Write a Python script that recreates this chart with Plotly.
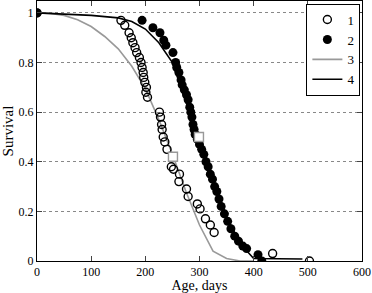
import plotly.graph_objects as go

# Series 1: open circles (day, survival)
s1_days = [0, 155, 162, 170, 174, 177, 181, 184, 189, 192, 194, 196, 197, 199, 202, 201, 204,
           226, 228, 230, 231, 233, 236, 240, 248, 252, 263, 262, 276, 279, 296, 301, 311, 320, 327, 435, 503]
s1_surv = [1.0, 0.97, 0.95, 0.92, 0.90, 0.88, 0.86, 0.84, 0.82, 0.80, 0.78, 0.76, 0.74, 0.72, 0.70, 0.68, 0.66,
           0.60, 0.58, 0.55, 0.53, 0.50, 0.48, 0.45, 0.38, 0.37, 0.35, 0.32, 0.29, 0.26, 0.23, 0.21, 0.17, 0.145, 0.115, 0.03, 0.0]

# Series 2: filled circles
s2_days = [0, 194, 214, 227, 234, 238, 251, 256, 258, 262, 266, 268, 272, 276, 279, 282, 284, 286, 288, 290,
           292, 296, 300, 304, 308, 312, 316, 320, 324, 328, 332, 336, 340, 346, 352, 358, 365, 372, 380, 387, 408, 415]
s2_surv = [1.0, 0.97, 0.94, 0.92, 0.89, 0.87, 0.84, 0.80, 0.78, 0.76, 0.73, 0.71, 0.69, 0.67, 0.65, 0.62, 0.60, 0.58, 0.55, 0.53,
           0.51, 0.49, 0.47, 0.45, 0.43, 0.40, 0.38, 0.35, 0.33, 0.30, 0.28, 0.25, 0.22, 0.19, 0.16, 0.13, 0.10, 0.08, 0.06, 0.05, 0.025, 0.0]

# Curve 3: gray model line
c3_days = [0, 25, 50, 75, 100, 125, 150, 175, 200, 225, 250, 275, 300, 325, 350, 375, 400]
c3_surv = [1.0, 0.998, 0.99, 0.972, 0.945, 0.905, 0.855, 0.785, 0.695, 0.57, 0.43, 0.28, 0.145, 0.04, 0.01, 0.0, 0.0]

# Curve 4: black model line
c4_days = [0, 50, 100, 150, 175, 200, 225, 250, 275, 300, 325, 350, 375, 400, 450, 490]
c4_surv = [1.0, 0.995, 0.99, 0.98, 0.965, 0.935, 0.88, 0.80, 0.64, 0.50, 0.33, 0.18, 0.07, 0.01, 0.008, 0.008]

# Medians (gray squares)
med_days = [251, 299]
med_surv = [0.42, 0.50]

x_ticks = [0, 100, 200, 300, 400, 500, 600]
y_ticks = [0, 0.2, 0.4, 0.6, 0.8, 1.0]
y_tick_labels = ["0", "0.2", "0.4", "0.6", "0.8", "1"]

font_family = "Liberation Serif, Times New Roman, serif"

fig = go.Figure()
fig.add_trace(go.Scatter(x=c3_days, y=c3_surv, mode="lines", name="3",
                         line=dict(color="#999999", width=1.6), legendrank=3))
fig.add_trace(go.Scatter(x=c4_days, y=c4_surv, mode="lines", name="4",
                         line=dict(color="black", width=1.6), legendrank=4))
fig.add_trace(go.Scatter(x=s1_days, y=s1_surv, mode="markers", name="1", legendrank=1,
                         marker=dict(symbol="circle-open", size=8, color="black", line=dict(width=1.4))))
fig.add_trace(go.Scatter(x=s2_days, y=s2_surv, mode="markers", name="2", legendrank=2,
                         marker=dict(symbol="circle", size=9, color="black")))
fig.add_trace(go.Scatter(x=med_days, y=med_surv, mode="markers", showlegend=False,
                         marker=dict(symbol="square", size=9, color="white",
                                     line=dict(color="#999999", width=1.4))))

fig.update_layout(
    width=372, height=293,
    margin=dict(l=37, r=10, t=1, b=32, autoexpand=False),
    paper_bgcolor="white", plot_bgcolor="white",
    font=dict(family=font_family, size=12, color="black"),
    legend=dict(x=0.995, y=0.99, xanchor="right", yanchor="top",
                bgcolor="white", bordercolor="black", borderwidth=1,
                font=dict(size=13, color="black"), traceorder="normal",
                itemwidth=30, tracegroupgap=0),
    showlegend=True,
)
fig.update_xaxes(range=[0, 600], tickvals=x_ticks, ticks="inside", ticklen=5,
                 showline=True, linecolor="black", linewidth=1, mirror="ticks",
                 showgrid=False, zeroline=False,
                 title=dict(text="Age, days", font=dict(size=14), standoff=1),
                 tickfont=dict(size=12))
fig.update_yaxes(range=[0, 1.048], tickvals=y_ticks, ticktext=y_tick_labels,
                 ticks="inside", ticklen=5,
                 showline=True, linecolor="black", linewidth=1, mirror="ticks",
                 showgrid=True, gridcolor="#888888", griddash="dot", gridwidth=1,
                 zeroline=False,
                 title=dict(text="Survival", font=dict(size=15), standoff=4),
                 tickfont=dict(size=12))

fig.write_html("out.html", config={"displayModeBar": False},
               post_script="document.body.style.margin='0';document.body.style.overflow='hidden';")
